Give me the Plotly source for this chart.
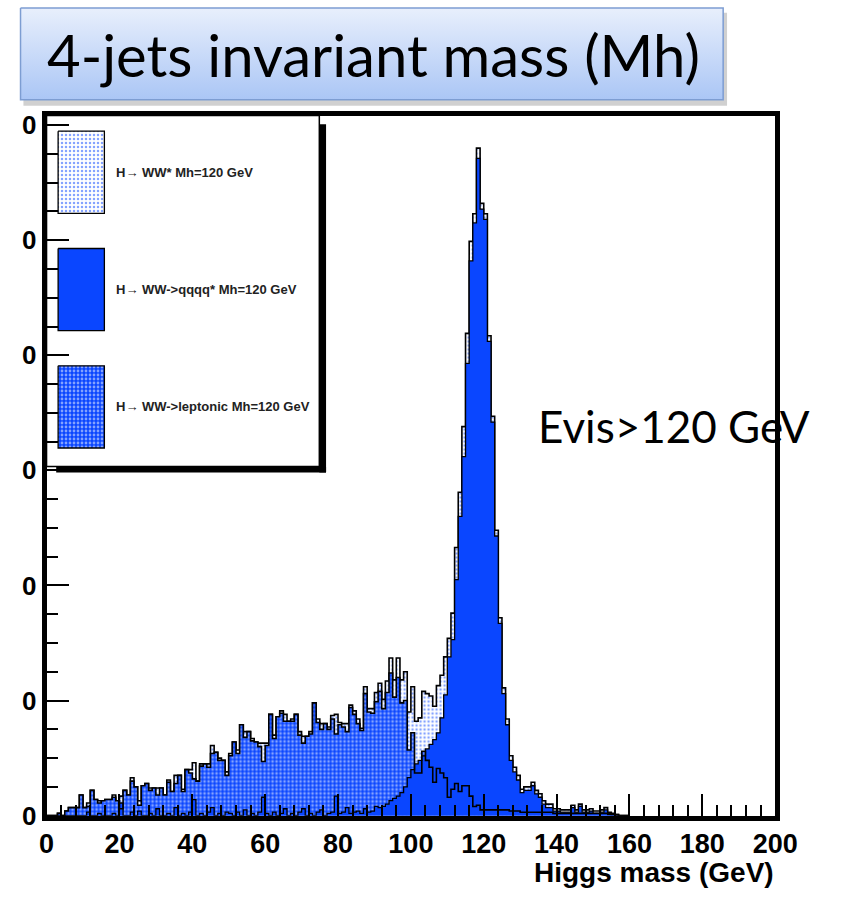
import plotly.graph_objects as go

W, H = 857, 904

# ---------------- data (1 GeV bins, low edges 0..159) ----------------
mass_low_edges = list(range(0, 160))

total_ww = [
    0, 0, 0, 2, 0, 4, 7, 7, 7, 18,
    7, 11, 22, 14, 13, 13, 14, 14, 18, 13,
    17, 22, 18, 33, 25, 13, 26, 28, 24, 24,
    24, 24, 18, 31, 21, 35, 35, 23, 40, 40,
    46, 30, 45, 45, 45, 61, 55, 50, 48, 38,
    54, 64, 57, 79, 73, 73, 67, 64, 63, 63,
    63, 88, 70, 86, 91, 88, 82, 84, 88, 73,
    69, 69, 73, 98, 84, 80, 80, 77, 87, 88,
    81, 80, 80, 96, 91, 84, 76, 112, 93, 93,
    107, 115, 101, 117, 137, 118, 137, 118, 125, 90,
    112, 82, 85, 108, 106, 104, 95, 113, 122, 138,
    154, 176, 233, 281, 338, 419, 499, 523, 580, 532,
    523, 417, 347, 248, 172, 111, 84, 52, 42, 35,
    23, 25, 25, 29, 22, 19, 13, 10, 10, 6,
    6, 5, 5, 5, 9, 5, 10, 5, 5, 6,
    4, 4, 5, 7, 3, 2, 1, 0, 0, 0,
]

qqqq = [
    0, 0, 0, 0, 0, 0, 0, 0, 0, 0,
    0, 3, 0, 0, 2, 0, 0, 0, 2, 0,
    11, 0, 0, 3, 0, 4, 0, 0, 2, 0,
    6, 0, 0, 2, 0, 7, 0, 2, 0, 3,
    14, 0, 2, 0, 3, 7, 0, 2, 0, 3,
    2, 0, 3, 0, 5, 0, 2, 0, 3, 16,
    2, 0, 3, 0, 2, 6, 0, 2, 0, 3,
    6, 0, 2, 0, 3, 5, 0, 2, 3, 17,
    2, 3, 7, 2, 3, 4, 2, 6, 3, 4,
    8, 7, 8, 10, 13, 15, 17, 20, 25, 33,
    40, 45, 48, 52, 58, 62, 66, 72, 85, 105,
    138, 153, 205, 260, 312, 393, 482, 515, 571, 527,
    518, 412, 342, 243, 167, 106, 79, 48, 38, 31,
    20, 22, 22, 26, 19, 16, 10, 7, 7, 4,
    4, 3, 3, 3, 7, 3, 8, 3, 3, 4,
    2, 2, 3, 5, 1, 1, 0, 0, 0, 0,
]

leptonic = [
    0, 0, 0, 2, 0, 4, 7, 7, 7, 18,
    7, 8, 22, 14, 11, 13, 14, 14, 16, 13,
    6, 22, 18, 30, 25, 9, 26, 28, 22, 24,
    18, 24, 18, 29, 21, 28, 35, 21, 40, 37,
    32, 30, 43, 45, 42, 54, 55, 48, 48, 35,
    52, 64, 54, 79, 68, 73, 65, 64, 60, 47,
    61, 88, 67, 86, 89, 82, 82, 82, 88, 70,
    63, 69, 71, 98, 81, 75, 80, 75, 84, 71,
    79, 77, 73, 94, 88, 80, 74, 106, 90, 89,
    99, 108, 93, 107, 124, 103, 120, 98, 100, 57,
    72, 37, 37, 56, 48, 42, 29, 41, 37, 33,
    16, 23, 28, 21, 26, 26, 17, 8, 9, 5,
    5, 5, 5, 5, 5, 5, 5, 4, 4, 4,
    3, 3, 3, 3, 3, 3, 3, 3, 3, 2,
    2, 2, 2, 2, 2, 2, 2, 2, 2, 2,
    2, 2, 2, 2, 2, 1, 1, 0, 0, 0,
]

x_tick_vals = [0, 20, 40, 60, 80, 100, 120, 140, 160, 180, 200]
y_tick_vals = [0, 100, 200, 300, 400, 500, 600]
y_tick_text = ["0", "0", "0", "0", "0", "0", "0"]

legend_labels = [
    "H\u2192 WW* Mh=120 GeV",
    "H\u2192 WW->qqqq* Mh=120 GeV",
    "H\u2192 WW->leptonic Mh=120 GeV",
]
title_text = "4-jets invariant mass (Mh)"
cut_text = "Evis>120 GeV"
x_title = "Higgs mass (GeV)"

# ---------------- styles ----------------
BLUE = "#0a46ff"
XT_FONT = dict(family="Liberation Sans", size=27, color="black", weight="bold")
YT_FONT = dict(family="Liberation Sans", size=26, color="black", weight="bold")
CAL_FONT = "Lato"

pat_total = dict(shape=".", fgcolor=BLUE, bgcolor="white", size=4, solidity=0.3)
pat_lep = dict(shape=".", fgcolor="white", bgcolor=BLUE, size=4, solidity=0.38)


def step_xy(vals):
    x = mass_low_edges + [mass_low_edges[-1] + 1]
    y = list(vals) + [vals[-1]]
    return x, y


fig = go.Figure()

# H -> WW* (all): sparse blue dots on white
x, y = step_xy(total_ww)
fig.add_trace(go.Scatter(x=x, y=y, mode="lines", line=dict(shape="hv", color="black", width=1.6),
                         fill="tozeroy", fillcolor="white", fillpattern=pat_total,
                         hoverinfo="skip", showlegend=False))
# leptonic: checkered blue fill
x, y = step_xy(leptonic)
fig.add_trace(go.Scatter(x=x, y=y, mode="lines", line=dict(shape="hv", width=0, color="rgba(0,0,0,0)"),
                         fill="tozeroy", fillcolor=BLUE, fillpattern=pat_lep,
                         hoverinfo="skip", showlegend=False))
# qqqq: solid blue
x, y = step_xy(qqqq)
fig.add_trace(go.Scatter(x=x, y=y, mode="lines", line=dict(shape="hv", color="black", width=1.3),
                         fill="tozeroy", fillcolor=BLUE, hoverinfo="skip", showlegend=False))
# leptonic outline on top
x, y = step_xy(leptonic)
fig.add_trace(go.Scatter(x=x, y=y, mode="lines", line=dict(shape="hv", color="black", width=1.6),
                         hoverinfo="skip", showlegend=False))

# ---------------- overlay in page-pixel coordinates ----------------
def rect(x0, y0, x1, y1):
    return [x0, x1, x1, x0, x0], [y0, y0, y1, y1, y0]

sx, sy = rect(16, 8, 746, 103)
fig.add_trace(go.Scatter(x=sx, y=sy, xaxis="x2", yaxis="y2", mode="lines",
                         line=dict(width=0, color="rgba(0,0,0,0)"), fill="toself",
                         fillcolor="rgba(120,120,120,0.35)", hoverinfo="skip", showlegend=False))
bx, by = rect(13, 3, 742, 97)
fig.add_trace(go.Scatter(x=bx, y=by, xaxis="x2", yaxis="y2", mode="lines",
                         line=dict(color="#7d9dd2", width=1.5), fill="toself",
                         fillgradient=dict(type="vertical", start=97, stop=3,
                                           colorscale=[[0, "#a9c5f5"], [1, "#e8effc"]]),
                         hoverinfo="skip", showlegend=False))

sw_top = [129, 249, 369]
sw_styles = [
    dict(fillpattern=pat_total, fillcolor="white"),
    dict(fillcolor=BLUE),
    dict(fillpattern=pat_lep, fillcolor=BLUE),
]
for top, st in zip(sw_top, sw_styles):
    qx, qy = rect(52, top, 100, top + 84)
    fig.add_trace(go.Scatter(x=qx, y=qy, xaxis="x2", yaxis="y2", mode="lines",
                             line=dict(color="black", width=1.3), fill="toself",
                             hoverinfo="skip", showlegend=False, **st))

annotations = []
for top, lab in zip(sw_top, legend_labels):
    annotations.append(dict(x=110, y=top + 42, xref="x2", yref="y2", text=lab, showarrow=False,
                            xanchor="left", yanchor="middle",
                            font=dict(family="Liberation Sans", size=13, color="#222", weight="bold")))
annotations.append(dict(x=379, y=51, xref="x2", yref="y2", text=title_text, showarrow=False,
                        xanchor="center", yanchor="middle",
                        font=dict(family=CAL_FONT, size=58, color="black")))
annotations.append(dict(x=548, y=431, xref="x2", yref="y2", text=cut_text, showarrow=False,
                        xanchor="left", yanchor="middle",
                        font=dict(family=CAL_FONT, size=44, color="black")))
annotations.append(dict(x=797, y=887, xref="x2", yref="y2", text=x_title, showarrow=False,
                        xanchor="right", yanchor="middle",
                        font=dict(family="Liberation Sans", size=28, color="black", weight="bold")))

shapes = [
    dict(type="rect", xref="x2", yref="y2", x0=40, x1=323, y0=113, y1=472,
         line=dict(color="black", width=1.5), fillcolor="rgba(0,0,0,0)"),
    dict(type="rect", xref="x2", yref="y2", x0=323, x1=330, y0=122, y1=478,
         line=dict(width=0), fillcolor="black"),
    dict(type="rect", xref="x2", yref="y2", x0=50, x1=330, y0=472, y1=478,
         line=dict(width=0), fillcolor="black"),
]

PX_L, PX_R, PX_T, PX_B = 40, 796, 113, 829

fig.update_layout(
    width=W, height=H, autosize=False,
    margin=dict(l=0, r=0, t=0, b=0, pad=0),
    paper_bgcolor="white", plot_bgcolor="rgba(0,0,0,0)",
    showlegend=False,
    xaxis=dict(domain=[PX_L / W, PX_R / W], range=[0, 200], anchor="y",
               tickvals=x_tick_vals, ticks="inside", ticklen=22, tickwidth=1.5, tickcolor="black",
               minor=dict(dtick=4, ticks="inside", ticklen=11, tickwidth=1.5, tickcolor="black"),
               showline=True, linewidth=5, linecolor="black", mirror=True,
               showgrid=False, zeroline=False, tickfont=XT_FONT, fixedrange=True),
    yaxis=dict(domain=[1 - PX_B / H, 1 - PX_T / H], range=[0, (PX_B - PX_T) / 1.177], anchor="x",
               tickvals=y_tick_vals, ticktext=y_tick_text, ticks="inside", ticklen=22, tickwidth=1.5,
               tickcolor="black",
               minor=dict(dtick=25, ticks="inside", ticklen=11, tickwidth=1.5, tickcolor="black"),
               showline=True, linewidth=5, linecolor="black", mirror=True,
               showgrid=False, zeroline=False, tickfont=YT_FONT, fixedrange=True),
    xaxis2=dict(domain=[0, 1], range=[0, W], anchor="y2", visible=False, fixedrange=True),
    yaxis2=dict(domain=[0, 1], range=[H, 0], anchor="x2", visible=False, fixedrange=True),
    annotations=annotations,
    shapes=shapes,
)

fig.write_html("out.html", config={"responsive": False, "displayModeBar": False})
